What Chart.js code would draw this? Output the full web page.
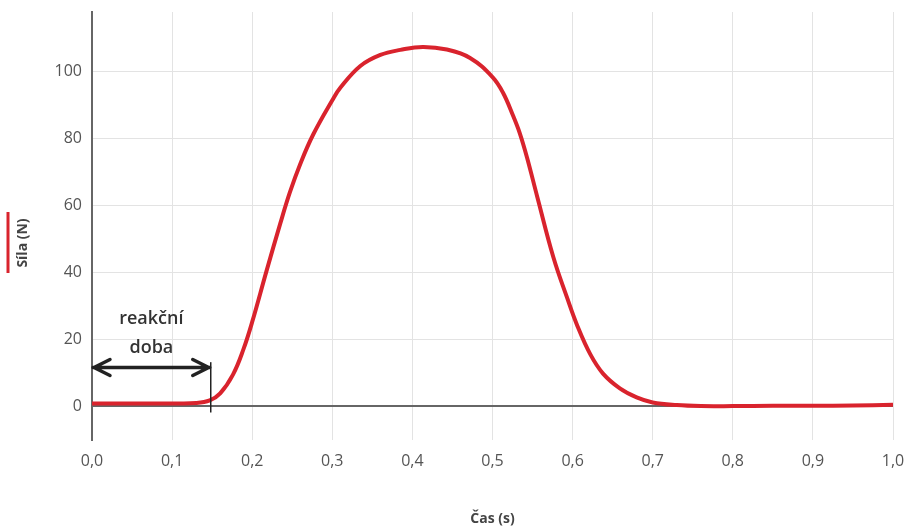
<!DOCTYPE html>
<html>
<head>
<meta charset="utf-8">
<script src="https://cdn.jsdelivr.net/npm/chart.js@4.4.1/dist/chart.umd.min.js"></script>
<style>
  html, body { margin: 0; padding: 0; background: #fff; }
  #wrap { width: 909px; height: 527px; }
</style>
</head>
<body>
<div id="wrap"><canvas id="chart"></canvas></div>
<script>
// time (s) and force (N)
const times = [0, 0.05, 0.10, 0.13, 0.147, 0.160, 0.176, 0.189, 0.200, 0.218, 0.235, 0.247, 0.260,
  0.276, 0.300, 0.310, 0.335, 0.360, 0.385, 0.413, 0.443, 0.472, 0.500, 0.513, 0.526, 0.534,
  0.543, 0.556, 0.576, 0.593, 0.606, 0.622, 0.638, 0.659, 0.680, 0.700, 0.730, 0.760, 0.800,
  0.850, 0.900, 0.950, 1.0];
const force = [0.9, 0.9, 0.9, 1.0, 1.8, 3.9, 9.5, 17.0, 25.2, 40.5, 54.5, 63.8, 72.3,
  81.0, 91.3, 95.0, 101.5, 104.8, 106.3, 107.2, 106.4, 103.9, 98.2, 93.6, 86.5, 81.5,
  74.3, 62.4, 44.5, 32.5, 24.0, 15.6, 9.8, 5.4, 2.7, 1.2, 0.4, 0.1, 0.1,
  0.2, 0.2, 0.3, 0.5];
const xTicks = [0, 0.1, 0.2, 0.3, 0.4, 0.5, 0.6, 0.7, 0.8, 0.9, 1.0];
const yTicks = [0, 20, 40, 60, 80, 100];
const reactionTime = 0.147;

const FONT = "'Open Sans', 'Noto Sans', sans-serif";

// y title with red series marker + reaction time annotation
const extras = {
  id: "extras",
  afterDraw(chart) {
    const ctx = chart.ctx;
    const xs = chart.scales.x, ys = chart.scales.y;
    ctx.save();
    // y title
    ctx.strokeStyle = "#d9232d";
    ctx.lineWidth = 3;
    ctx.beginPath();
    ctx.moveTo(8, 212);
    ctx.lineTo(8, 273);
    ctx.stroke();
    ctx.translate(23, 243);
    ctx.rotate(-Math.PI / 2);
    ctx.fillStyle = "#444";
    ctx.font = "bold 14px " + FONT;
    ctx.textAlign = "center";
    ctx.textBaseline = "middle";
    ctx.fillText("Síla (N)", 0, 0);
    ctx.restore();

    // reaction time arrow
    ctx.save();
    const x0 = xs.getPixelForValue(0) + 1;
    const x1 = xs.getPixelForValue(reactionTime);
    const yA = ys.getPixelForValue(11.6);
    ctx.strokeStyle = "#222";
    ctx.lineWidth = 3.5;
    ctx.lineCap = "round";
    ctx.lineJoin = "round";
    ctx.beginPath();
    ctx.moveTo(x0, yA); ctx.lineTo(x1, yA);
    ctx.moveTo(x0 + 17, yA - 8); ctx.lineTo(x0 + 1, yA); ctx.lineTo(x0 + 17, yA + 8);
    ctx.moveTo(x1 - 17, yA - 8); ctx.lineTo(x1 - 1, yA); ctx.lineTo(x1 - 17, yA + 8);
    ctx.stroke();
    ctx.lineWidth = 1.5;
    ctx.lineCap = "butt";
    ctx.beginPath();
    ctx.moveTo(x1 + 1, ys.getPixelForValue(13.2));
    ctx.lineTo(x1 + 1, ys.getPixelForValue(-1.8));
    ctx.stroke();
    ctx.fillStyle = "#333";
    ctx.font = "600 18px " + FONT;
    ctx.textAlign = "center";
    ctx.textBaseline = "middle";
    const xm = (x0 + x1) / 2;
    ctx.fillText("reakční", xm, 319);
    ctx.fillText("doba", xm, 348);
    ctx.restore();
  }
};

new Chart(document.getElementById("chart"), {
  type: "line",
  data: {
    datasets: [{
      label: "Síla (N)",
      data: times.map((t, i) => ({ x: t, y: force[i] })),
      borderColor: "#d9232d",
      borderWidth: 4,
      pointRadius: 0,
      tension: 0.4,
      fill: false
    }]
  },
  options: {
    responsive: true,
    maintainAspectRatio: false,
    animation: false,
    layout: { padding: { left: 0, right: 16, top: 12, bottom: 0 } },
    plugins: { legend: { display: false }, tooltip: { enabled: false } },
    scales: {
      x: {
        type: "linear",
        min: 0,
        max: 1,
        afterBuildTicks: s => { s.ticks = xTicks.map(v => ({ value: v })); },
        afterFit: s => { s.height = 87; s.paddingLeft = 0; s.paddingRight = 0; },
        border: { display: false },
        grid: { color: "#e3e3e3", lineWidth: 1, drawTicks: false },
        ticks: {
          padding: 12,
          color: "#555",
          font: { family: FONT, size: 16 },
          callback: v => v.toFixed(1).replace(".", ",")
        },
        title: {
          display: true,
          text: "Čas (s)",
          color: "#444",
          font: { family: FONT, size: 14, weight: "bold" },
          padding: { top: 0, bottom: 0 }
        }
      },
      y: {
        min: -10,
        max: 117.6,
        afterBuildTicks: s => { s.ticks = yTicks.map(v => ({ value: v })); },
        afterFit: s => { s.width = 92; s.paddingTop = 0; s.paddingBottom = 0; },
        border: { display: true, color: "#666", width: 2 },
        grid: {
          drawTicks: false,
          color: ctx => ctx.tick && ctx.tick.value === 0 ? "#666" : "#e3e3e3",
          lineWidth: ctx => ctx.tick && ctx.tick.value === 0 ? 2 : 1
        },
        ticks: {
          padding: 10,
          color: "#555",
          font: { family: FONT, size: 16 }
        }
      }
    }
  },
  plugins: [extras]
});
</script>
</body>
</html>
